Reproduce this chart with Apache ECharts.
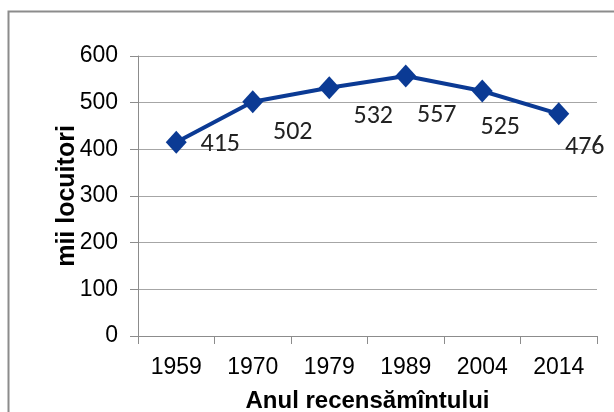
<!DOCTYPE html>
<html>
<head>
<meta charset="utf-8">
<script src="https://cdn.jsdelivr.net/npm/echarts@6/dist/echarts.min.js"></script>
<style>
  html, body { margin: 0; padding: 0; background: #fff; }
  #chart { width: 614px; height: 412px; }
</style>
</head>
<body>
<div id="chart"></div>
<script>
// date recensaminte
var years = ["1959", "1970", "1979", "1989", "2004", "2014"];
var speakers = [415, 502, 532, 557, 525, 476];
// pozitia etichetelor (ca in Excel, mutate manual)
var labelOffsets = [[44, 2], [40, 31], [44, 29], [31, 39], [18, 36], [26, 34]];

var chart = echarts.init(document.getElementById("chart"));

var seriesData = speakers.map(function (v, i) {
  return {
    value: v,
    label: { offset: labelOffsets[i] }
  };
});

var option = {
  animation: false,
  graphic: [
    {
      type: "rect",
      shape: { x: 8.5, y: 11.5, width: 640, height: 440 },
      style: { fill: "none", stroke: "#8c8c8c", lineWidth: 2 },
      silent: true
    }
  ],
  grid: { left: 138, right: 17, top: 56, bottom: 76, outerBoundsMode: "none", containLabel: false },
  xAxis: {
    type: "category",
    data: years,
    boundaryGap: true,
    name: "Anul recensămîntului",
    nameLocation: "middle",
    nameGap: 53,
    nameMoveOverlap: false,
    nameTextStyle: { fontFamily: "Liberation Sans", fontSize: 24, fontWeight: "bold", color: "#000" },
    axisLine: { lineStyle: { color: "#8c8c8c", width: 1 } },
    axisTick: { show: true, length: 8, lineStyle: { color: "#8c8c8c" } },
    axisLabel: { fontFamily: "Liberation Sans", fontSize: 23, color: "#000", margin: 20 }
  },
  yAxis: {
    type: "value",
    min: 0,
    max: 600,
    interval: 100,
    name: "mii locuitori",
    nameLocation: "middle",
    nameGap: 58,
    nameMoveOverlap: false,
    nameTextStyle: { fontFamily: "Liberation Sans", fontSize: 25, fontWeight: "bold", color: "#000" },
    axisLine: { show: true, lineStyle: { color: "#8c8c8c", width: 1 } },
    axisTick: { show: true, length: 8, lineStyle: { color: "#8c8c8c" } },
    axisLabel: { fontFamily: "Liberation Sans", fontSize: 23, color: "#000", margin: 20 },
    splitLine: { lineStyle: { color: "#a6a6a6", width: 1 } }
  },
  series: [
    {
      type: "line",
      data: seriesData,
      symbol: "diamond",
      symbolSize: [21, 23],
      lineStyle: { color: "#0b3a94", width: 4 },
      itemStyle: { color: "#0b3a94" },
      label: {
        show: true,
        position: "inside",
        fontFamily: "Carlito, Noto Sans, sans-serif",
        fontSize: 26,
        color: "#222"
      }
    }
  ]
};

chart.setOption(option);
</script>
</body>
</html>
